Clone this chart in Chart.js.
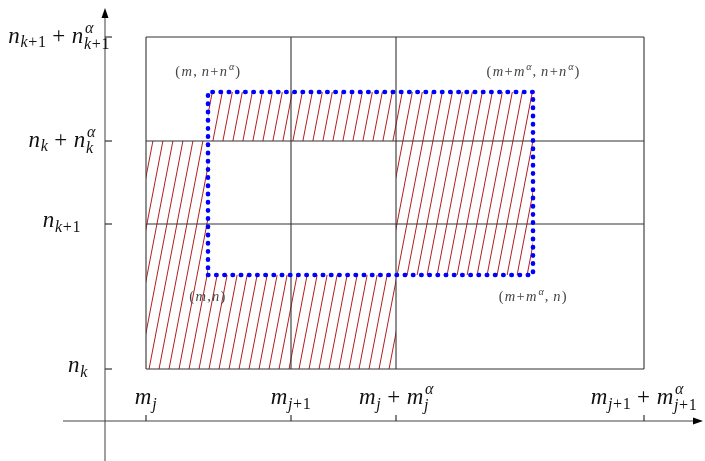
<!DOCTYPE html>
<html>
<head>
    <title>grid cells</title>
    <meta charset="utf-8">
    <style>
        body{ margin:0; background:#fff;}
    </style>
    <script src="https://cdn.jsdelivr.net/npm/chart.js@4.4.0/dist/chart.umd.min.js"></script>
</head>
<body>
    <canvas id="myChart" width="705" height="461"></canvas>

    <script>
        // values, origin where the two axes cross
        var xTicks = [4.1, 18.6, 29.1, 53.9];
        var xTickLabels = ['m_{j}', 'm_{j+1}', 'm_{j} + m_{j}^{α}', 'm_{j+1} + m_{j+1}^{α}'];
        var yTicks = [5.2, 19.7, 28.0, 38.4];
        var yTickLabels = ['n_{k}', 'n_{k+1}', 'n_{k} + n_{k}^{α}', 'n_{k+1} + n_{k+1}^{α}'];

        // the dotted box (m,n) .. (m+m^a, n+n^a)
        var boxX = [10.3, 42.8];
        var boxY = [14.6, 32.9];
        var cornerLabels = ['(m,n)', '(m+m^{α}, n)', '(m+m^{α}, n+n^{α})', '(m, n+n^{α})'];

        // layout only
        var yLabelShift = [-17, -24, -10, 5];   // right edge of label, px from the axis
        var tickSize = 23, tickGap = 0.8, cornerSize = 14.5, cornerGap = 1.3;

        /* hatch pattern
        */
        function hatch(){
            var c = document.createElement('canvas');
            c.width = 10; c.height = 52;
            var g = c.getContext('2d');
            g.strokeStyle = 'rgb(178,30,30)';
            g.lineWidth = 1;
            [-10, 0, 10].forEach(function(o){
                g.beginPath(); g.moveTo(o, 52); g.lineTo(o + 10, 0); g.stroke();
            });
            return g.createPattern(c, 'repeat');
        }
        var pat = hatch();

        function pt(x, y){ return {x: x, y: y}; }

        var datasets = [];

        // dotted box on top
        datasets.push({
            data: [pt(boxX[0], boxY[0]), pt(boxX[1], boxY[0]), pt(boxX[1], boxY[1]), pt(boxX[0], boxY[1]), pt(boxX[0], boxY[0])],
            borderColor: '#0000ff', borderWidth: 4.6, borderDash: [0.4, 7.8], borderCapStyle: 'round',
            pointRadius: 0, fill: false, order: 0
        });

        // grid
        xTicks.forEach(function(v){
            datasets.push({ data: [pt(v, yTicks[0]), pt(v, yTicks[3])], borderColor: '#333', borderWidth: 1.1, pointRadius: 0, fill: false, order: 1 });
        });
        yTicks.forEach(function(v){
            datasets.push({ data: [pt(xTicks[0], v), pt(xTicks[3], v)], borderColor: '#333', borderWidth: 1.1, pointRadius: 0, fill: false, order: 1 });
        });

        // hatched parts: symmetric difference of the box and [mj, mj+mj^a] x [nk, nk+nk^a]
        var hatchA = [pt(boxX[0], boxY[1]), pt(boxX[1], boxY[1]), pt(boxX[1], boxY[0]), pt(xTicks[2], boxY[0]),
                      pt(xTicks[2], yTicks[2]), pt(boxX[0], yTicks[2]), pt(boxX[0], boxY[1])];
        var hatchB = [pt(xTicks[0], yTicks[2]), pt(boxX[0], yTicks[2]), pt(boxX[0], boxY[0]), pt(xTicks[2], boxY[0]),
                      pt(xTicks[2], yTicks[0]), pt(xTicks[0], yTicks[0]), pt(xTicks[0], yTicks[2])];
        [hatchA, hatchB].forEach(function(d){
            datasets.push({ data: d, fill: 'shape', backgroundColor: pat, borderColor: 'rgba(0,0,0,0)', borderWidth: 0, pointRadius: 0, order: 2 });
        });

        /* little math text renderer
        */
        function parseMath(s){
            var atoms = [], i = 0;
            function group(){
                if (s[i] === '{'){
                    var d = 1, j = i + 1;
                    while (d > 0){ if (s[j] === '{') d++; else if (s[j] === '}') d--; j++; }
                    var g = s.slice(i + 1, j - 1); i = j; return g;
                }
                return s[i++];
            }
            while (i < s.length){
                var c = s[i];
                if (c === '_'){ i++; atoms[atoms.length - 1].sub = group(); }
                else if (c === '^'){ i++; atoms[atoms.length - 1].sup = group(); }
                else { atoms.push({t: c}); i++; }
            }
            return atoms;
        }
        function fontFor(ch, size){
            return (/[A-Za-zα]/.test(ch) ? 'italic ' : '') + size + 'px "Liberation Serif"';
        }
        function runWidth(ctx, str, size, gap){
            var w = 0;
            for (var ch of str){
                if (ch === ' '){ w += size * 0.25; continue; }
                ctx.font = fontFor(ch, size);
                w += ctx.measureText(ch).width + gap;
            }
            return w;
        }
        function drawRun(ctx, str, x, y, size, gap){
            for (var ch of str){
                if (ch === ' '){ x += size * 0.25; continue; }
                ctx.font = fontFor(ch, size);
                ctx.fillText(ch, x, y);
                x += ctx.measureText(ch).width + gap;
            }
            return x;
        }
        function mathWidth(ctx, atoms, size, gap){
            var w = 0;
            atoms.forEach(function(a){
                w += runWidth(ctx, a.t, size, gap);
                var s1 = a.sub ? runWidth(ctx, a.sub, size * 0.7, gap * 0.7) : 0;
                var s2 = a.sup ? runWidth(ctx, a.sup, size * 0.7, gap * 0.7) : 0;
                w += Math.max(s1, s2);
            });
            return w;
        }
        function drawMath(ctx, s, x, y, size, align, gap){
            var atoms = parseMath(s);
            var w = mathWidth(ctx, atoms, size, gap);
            if (align === 'center') x -= w / 2;
            if (align === 'right') x -= w;
            atoms.forEach(function(a){
                x = drawRun(ctx, a.t, x, y, size, gap);
                var e1 = x, e2 = x;
                if (a.sub) e1 = drawRun(ctx, a.sub, x, y + size * (a.sup ? 0.27 : 0.2), size * 0.7, gap * 0.7);
                if (a.sup) e2 = drawRun(ctx, a.sup, x + size * 0.04, y - size * 0.42, size * 0.7, gap * 0.7);
                x = Math.max(e1, e2);
            });
        }

        var axesPlugin = {
            id: 'axes',
            beforeDatasetsDraw: function(chart){
                var ctx = chart.ctx, sx = chart.scales.x, sy = chart.scales.y;
                var ox = sx.getPixelForValue(0), oy = sy.getPixelForValue(0);
                ctx.save();
                // y axis
                ctx.strokeStyle = '#888'; ctx.lineWidth = 1.6;
                ctx.beginPath(); ctx.moveTo(ox, sy.getPixelForValue(-4)); ctx.lineTo(ox, sy.getPixelForValue(40.5)); ctx.stroke();
                // x axis
                ctx.strokeStyle = '#444'; ctx.lineWidth = 1.2;
                ctx.beginPath(); ctx.moveTo(sx.getPixelForValue(-4.2), oy); ctx.lineTo(sx.getPixelForValue(58.8), oy); ctx.stroke();
                // arrows
                ctx.fillStyle = '#000';
                var ty = sy.getPixelForValue(41.3);
                ctx.beginPath(); ctx.moveTo(ox, ty); ctx.lineTo(ox - 3.5, ty + 10); ctx.lineTo(ox + 3.5, ty + 10); ctx.closePath(); ctx.fill();
                var tx = sx.getPixelForValue(59.8);
                ctx.beginPath(); ctx.moveTo(tx, oy); ctx.lineTo(tx - 10, oy - 3.5); ctx.lineTo(tx - 10, oy + 3.5); ctx.closePath(); ctx.fill();
                // ticks
                ctx.strokeStyle = '#333'; ctx.lineWidth = 1.2;
                yTicks.forEach(function(v){
                    var p = sy.getPixelForValue(v);
                    ctx.beginPath(); ctx.moveTo(ox, p); ctx.lineTo(ox + 7, p); ctx.stroke();
                });
                xTicks.forEach(function(v){
                    var p = sx.getPixelForValue(v);
                    ctx.beginPath(); ctx.moveTo(p, oy); ctx.lineTo(p, oy - 6); ctx.stroke();
                });
                ctx.restore();
            },
            afterDraw: function(chart){
                var ctx = chart.ctx, sx = chart.scales.x, sy = chart.scales.y;
                var ox = sx.getPixelForValue(0), oy = sy.getPixelForValue(0);
                ctx.save();
                ctx.textBaseline = 'alphabetic'; ctx.textAlign = 'left';
                ctx.fillStyle = '#111';
                yTickLabels.forEach(function(l, i){
                    var p = sy.getPixelForValue(yTicks[i]);
                    var off = l.indexOf('^') >= 0 ? 0.25 : 0.15;
                    drawMath(ctx, l, ox + yLabelShift[i], p + tickSize * off, tickSize, 'right', tickGap);
                });
                xTickLabels.forEach(function(l, i){
                    drawMath(ctx, l, sx.getPixelForValue(xTicks[i]), oy - 17, tickSize, 'center', tickGap);
                });
                // corner labels
                ctx.fillStyle = '#444';
                var corners = [[boxX[0], boxY[0], 1], [boxX[1], boxY[0], 1], [boxX[1], boxY[1], -1], [boxX[0], boxY[1], -1]];
                corners.forEach(function(c, i){
                    var px = sx.getPixelForValue(c[0]), py = sy.getPixelForValue(c[1]);
                    drawMath(ctx, cornerLabels[i], px, py + (c[2] > 0 ? 26 : -16), cornerSize, 'center', cornerGap);
                });
                ctx.restore();
            }
        };

        var myChart = new Chart(document.getElementById('myChart'), {
            type: 'line',
            data: { datasets: datasets },
            options: {
                responsive: false,
                devicePixelRatio: 1,
                animation: false,
                layout: { padding: 0 },
                elements: { line: { tension: 0 } },
                plugins: { legend: { display: false }, tooltip: { enabled: false } },
                scales: {
                    x: { type: 'linear', min: -10.5, max: 60, display: false },
                    y: { type: 'linear', min: -4.0, max: 42.1, display: false }
                }
            },
            plugins: [axesPlugin]
        });
    </script>
</body>
</html>
